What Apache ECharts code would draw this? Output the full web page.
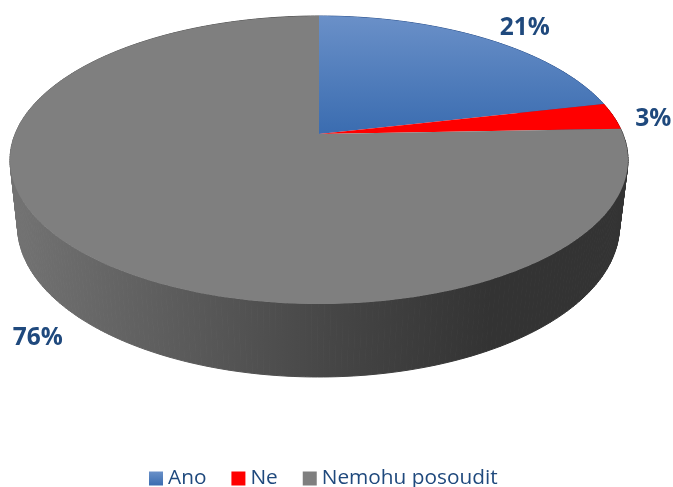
<!DOCTYPE html>
<html><head><meta charset="utf-8">
<style>html,body{margin:0;padding:0;background:#fff}#c{width:673px;height:487px}</style>
<script src="https://cdn.jsdelivr.net/npm/echarts@6/dist/echarts.min.js"></script>
</head><body><div id="c"></div>
<script>
const categories = ['Ano', 'Ne', 'Nemohu posoudit'];
const shareValues = [21.4, 3.0, 75.6];
const shareLabels = ['21%', '3%', '76%'];

const total = shareValues.reduce((a, b) => a + b, 0);
const grad = (x2, y2, c0, c1) => ({type: 'linear', x: 0, y: 0, x2, y2, colorStops: [{offset: 0, color: c0}, {offset: 1, color: c1}]});
const sideGrad = {type: 'linear', global: true, x: 18, y: 0, x2: 622, y2: 0, colorStops: [
  {offset: 0, color: '#727272'}, {offset: 0.53, color: '#454545'}, {offset: 0.78, color: '#333333'}, {offset: 1, color: '#333333'}]};
const topFill = [grad(0, 1, '#6a90c8', '#3a6cb0'), '#ff0000', '#7f7f7f'];
const sideFill = ['#2f5590', '#b00000', sideGrad];
const legendFill = [grad(0, 1, '#6a90c8', '#3a6cb0'), '#ff0000', '#7f7f7f'];
const labelOffset = [[40, -10.5], [40, 2.5], [-39, 88.5]];

// Perspective projection of the pie disc, top face and bottom face
const topFace = {x: 319, y: 134, a: 115.1, c: -0.1806, k: 303.9};
const botFace = {x: 318.5, y: 198.7, a: 110.2, c: -0.1806, k: 296};
function project(face, theta) {
  const u = Math.sin(theta), v = -Math.cos(theta), d = face.c * v + 1;
  return [face.x + face.k * u / d, (face.a * v + face.y) / d];
}
function rim(face, t0, t1) {
  const pts = [], n = Math.max(2, Math.ceil((t1 - t0) * 60));
  for (let i = 0; i <= n; i++) pts.push(project(face, t0 + (t1 - t0) * i / n));
  return pts;
}
function renderSlice(idx) {
  return function (params, api) {
    const prev = shareValues.slice(0, idx).reduce((a, b) => a + b, 0);
    const t0 = prev / total * 2 * Math.PI;
    const t1 = t0 + api.value(0) / total * 2 * Math.PI;
    const upper = rim(topFace, t0, t1), lower = rim(botFace, t0, t1);
    const mid = project(topFace, (t0 + t1) / 2);
    const children = [];
    for (let i = 0; i < upper.length - 1; i++) {
      children.push({type: 'polygon', z2: 1,
        shape: {points: [upper[i], upper[i + 1], lower[i + 1], lower[i]]},
        style: {fill: sideFill[idx], stroke: sideFill[idx], lineWidth: 1}});
    }
    children.push(
      {type: 'polygon', z2: 5, shape: {points: [[topFace.x, topFace.y]].concat(upper)}, style: {fill: topFill[idx]}},
      {type: 'text', z2: 10, style: {
        x: mid[0] + labelOffset[idx][0], y: mid[1] + labelOffset[idx][1],
        text: shareLabels[idx], align: 'center', verticalAlign: 'middle',
        fill: '#1f497d', font: 'bold 24.5px "Open Sans", sans-serif'}});
    return {type: 'group', children};
  };
}
const chart = echarts.init(document.getElementById('c'), null, {renderer: 'canvas', width: 673, height: 487});
chart.setOption({
  animation: false,
  backgroundColor: '#ffffff',
  legend: {
    left: 149, top: 468, padding: 0, itemWidth: 14, itemHeight: 14, itemGap: 25,
    icon: 'rect', data: categories,
    textStyle: {color: '#1f497d', fontSize: 20.8, fontFamily: '"Open Sans", sans-serif'}
  },
  series: categories.map((name, i) => ({
    type: 'custom', name, coordinateSystem: 'none', silent: true,
    itemStyle: {color: legendFill[i]},
    renderItem: renderSlice(i),
    data: [[shareValues[i]]]
  }))
});
</script></body></html>
